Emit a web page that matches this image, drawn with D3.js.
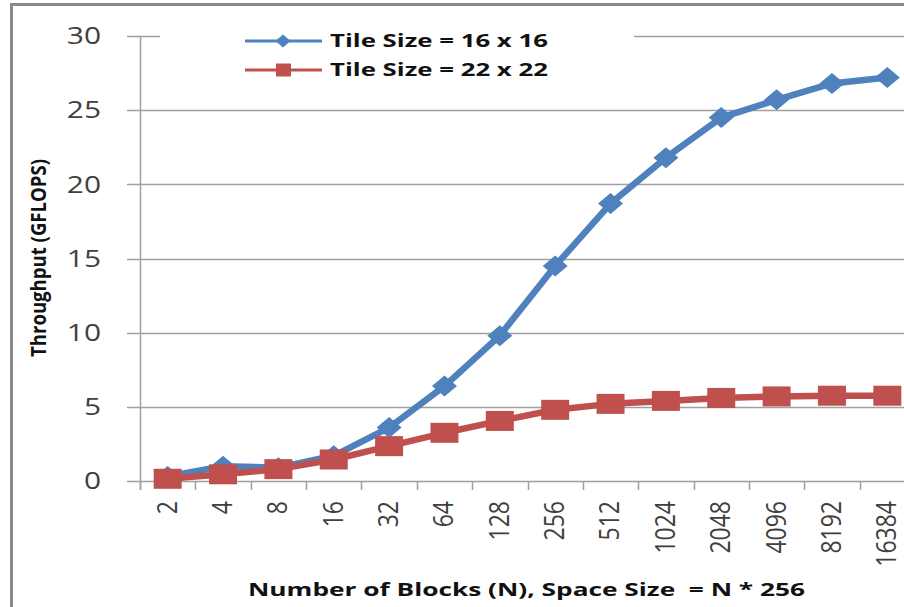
<!DOCTYPE html>
<html>
<head>
<meta charset="utf-8">
<script src="https://cdn.jsdelivr.net/npm/d3@7"></script>
<style>
  html, body { margin:0; padding:0; background:#fff; }
  svg { display:block; font-family:"Open Sans", "Noto Sans", sans-serif; }
</style>
</head>
<body>
<div id="chart"></div>
<script>
// data (GFLOPS)
const blocks = ["2","4","8","16","32","64","128","256","512","1024","2048","4096","8192","16384"];
const tile16 = [0.3, 1.0, 0.9, 1.7, 3.6, 6.4, 9.8, 14.5, 18.7, 21.8, 24.5, 25.7, 26.8, 27.2];
const tile22 = [0.15, 0.45, 0.8, 1.45, 2.35, 3.25, 4.05, 4.8, 5.2, 5.4, 5.6, 5.7, 5.75, 5.75];
const yTicks = [0, 5, 10, 15, 20, 25, 30];
const seriesNames = ["Tile Size = 16 x 16", "Tile Size = 22 x 22"];

const W = 904, H = 607;
const blue = "#4f81bd", red = "#c0504d", grid = "#a0a0a0";

const svg = d3.select('#chart').append('svg')
  .attr('width', W).attr('height', H);

// outer frame (only top + left visible in crop)
svg.append('line').attr('x1', 11).attr('x2', W).attr('y1', 4.5).attr('y2', 4.5)
  .attr('stroke', '#8a8a8a').attr('stroke-width', 3);
svg.append('line').attr('x1', 11.5).attr('x2', 11.5).attr('y1', 3).attr('y2', H)
  .attr('stroke', '#8a8a8a').attr('stroke-width', 3);

const x = d3.scaleBand().domain(blocks).range([140, 915]);
const y = d3.scaleLinear().domain([0, 30]).range([481, 36]);

// gridlines + y ticks
svg.append('g').selectAll('line').data(yTicks).enter().append('line')
  .attr('x1', 127).attr('x2', 915)
  .attr('y1', d => Math.round(y(d)) + 0.5).attr('y2', d => Math.round(y(d)) + 0.5)
  .attr('stroke', grid).attr('stroke-width', 1.5);

// y axis line
svg.append('line').attr('x1', 140.5).attr('x2', 140.5).attr('y1', y(30)).attr('y2', 490)
  .attr('stroke', grid).attr('stroke-width', 1.5);

// x ticks at band boundaries
const bounds = blocks.map(d => x(d)).concat([x.range()[1]]);
svg.append('g').selectAll('line').data(bounds).enter().append('line')
  .attr('x1', d => Math.round(d) + 0.5).attr('x2', d => Math.round(d) + 0.5)
  .attr('y1', 481).attr('y2', 490)
  .attr('stroke', grid).attr('stroke-width', 1.5);

// y tick labels
svg.append('g').selectAll('text').data(yTicks).enter().append('text')
  .attr('transform', d => `translate(101,${y(d)}) scale(1.3,1)`)
  .attr('text-anchor', 'end').attr('dy', '0.36em')
  .attr('font-size', 23).attr('fill', '#404040')
  .text(d => d);

// x tick labels (rotated)
svg.append('g').selectAll('text').data(blocks).enter().append('text')
  .attr('transform', d => `translate(${x(d) + x.bandwidth() / 2 - 1},501) rotate(-90) scale(1,1.2)`)
  .attr('text-anchor', 'end').attr('dy', '0.36em')
  .attr('font-size', 23).attr('fill', '#404040')
  .text(d => d);

// axis titles
svg.append('text')
  .attr('transform', 'translate(39,258) rotate(-90) scale(1,1.3)')
  .attr('text-anchor', 'middle').attr('dy', '0.36em')
  .attr('font-size', 16).attr('font-weight', 'bold').attr('fill', '#111')
  .attr('textLength', 198).attr('lengthAdjust', 'spacingAndGlyphs')
  .text('Throughput (GFLOPS)');

svg.append('text')
  .attr('x', 248).attr('y', 590).attr('dy', '0.36em')
  .attr('font-size', 18).attr('font-weight', 'bold').attr('fill', '#111')
  .attr('textLength', 557).attr('lengthAdjust', 'spacingAndGlyphs')
  .attr('xml:space', 'preserve')
  .text('Number of Blocks (N), Space Size  = N * 256');

// series
const cx = (d, i) => x(blocks[i]) + x.bandwidth() / 2;
const line = d3.line().x(cx).y(d => y(d));

const diamond = (w, h) => `M0,${-h/2}L${w/2},0L0,${h/2}L${-w/2},0Z`;

svg.append('path').datum(tile16).attr('d', line)
  .attr('fill', 'none').attr('stroke', blue).attr('stroke-width', 6.5).attr('stroke-linejoin', 'round');
svg.append('g').selectAll('path').data(tile16).enter().append('path')
  .attr('transform', (d, i) => `translate(${cx(d, i)},${y(d)})`)
  .attr('d', diamond(25, 21)).attr('fill', blue);

svg.append('path').datum(tile22).attr('d', line)
  .attr('fill', 'none').attr('stroke', red).attr('stroke-width', 6.5).attr('stroke-linejoin', 'round');
svg.append('g').selectAll('rect').data(tile22).enter().append('rect')
  .attr('x', (d, i) => cx(d, i) - 14).attr('y', d => y(d) - 10)
  .attr('width', 28).attr('height', 20).attr('fill', red);

// legend
const leg = svg.append('g');
leg.append('rect').attr('x', 160).attr('y', 22).attr('width', 474).attr('height', 64).attr('fill', '#fff');
const legY = [41, 70];
const legColors = [blue, red];
seriesNames.forEach((name, i) => {
  leg.append('line').attr('x1', 245).attr('x2', 322).attr('y1', legY[i]).attr('y2', legY[i])
    .attr('stroke', legColors[i]).attr('stroke-width', 3);
  if (i === 0) {
    leg.append('path').attr('transform', `translate(283,${legY[i]})`)
      .attr('d', diamond(15, 13)).attr('fill', blue);
  } else {
    leg.append('rect').attr('x', 276).attr('y', legY[i] - 6.5)
      .attr('width', 15).attr('height', 13).attr('fill', red);
  }
  leg.append('text').attr('x', 330).attr('y', legY[i]).attr('dy', '0.36em')
    .attr('font-size', 18).attr('font-weight', 'bold').attr('fill', '#111')
    .attr('textLength', 218).attr('lengthAdjust', 'spacingAndGlyphs')
    .text(name);
});
</script>
</body>
</html>
